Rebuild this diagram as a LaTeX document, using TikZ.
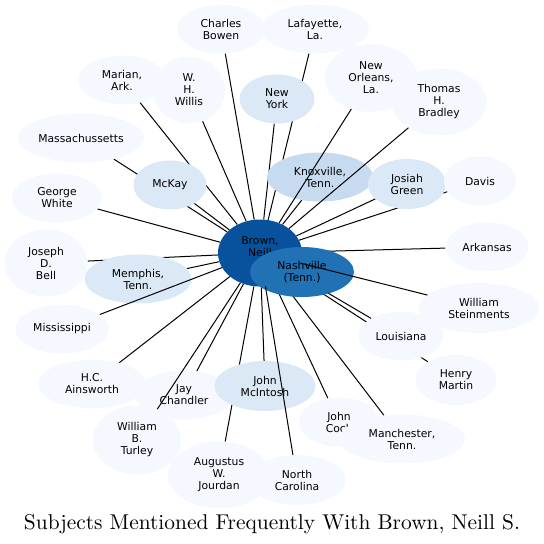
\documentclass[tikz,border=0pt]{standalone}
\usepackage{fontspec}
\setsansfont{DejaVu Sans}
\newfontfamily\titlefont{lmroman10-regular}[Extension=.otf]
\usetikzlibrary{shapes.geometric}
\definecolor{subjpale}{HTML}{F5F9FF}
\definecolor{subjsoft}{HTML}{DBE9F6}
\definecolor{subjmid}{HTML}{C6DBEF}
\definecolor{subjstrong}{HTML}{2171B5}
\definecolor{subjdeep}{HTML}{08519C}
\pgfdeclarelayer{back}
\pgfdeclarelayer{front}
\pgfsetlayers{back,main,front}

\begin{document}
\begin{tikzpicture}[
    x=1pt, y=-1pt,
    subj/.style={ellipse, draw=none, inner sep=0pt, align=center,
      font=\sffamily\fontsize{10.8}{12}\selectfont},
    pale/.style={subj, fill=subjpale},
    soft/.style={subj, fill=subjsoft},
    mid/.style={subj, fill=subjmid},
    strong/.style={subj, fill=subjstrong},
    deep/.style={subj, fill=subjdeep},
    ell/.style 2 args={minimum width=#1, minimum height=#2},
    link/.style={draw=black, line width=1pt}
  ]
  \useasboundingbox (0,0) rectangle (544,544);

  % outer ring, top
  \node[pale, ell={88pt}{49pt}] (bowen) at (221,29) {Charles\\Bowen};
  \node[pale, ell={108pt}{49pt}] (lafayette) at (315,29) {Lafayette,\\La.};
  \node[pale, ell={88pt}{49pt}] (marian) at (122,80) {Marian,\\Ark.};
  \node[pale, ell={72pt}{67pt}] (willis) at (189,90) {W.\\H.\\Willis};
  \node[soft, ell={75pt}{49pt}] (newyork) at (277,99) {New\\York};
  \node[pale, ell={93pt}{68pt}] (neworleans) at (371,78) {New\\Orleans,\\La.};
  \node[pale, ell={95pt}{67pt}] (bradley) at (439,102) {Thomas\\H.\\Bradley};
  \node[pale, ell={126pt}{49pt}] (mass) at (81,138) {Massachussetts};
  \node[soft, ell={73pt}{49pt}] (mckay) at (170,185) {McKay};
  \node[mid, ell={106pt}{49pt}] (knoxville) at (320,177) {Knoxville,\\Tenn.};
  \node[soft, ell={78pt}{50pt}] (josiah) at (407,184) {Josiah\\Green};
  \node[pale, ell={72pt}{49pt}] (davis) at (480,181) {Davis};
  \node[pale, ell={90pt}{49pt}] (george) at (57,198) {George\\White};

  % middle band
  \node[pale, ell={83pt}{67pt}] (bell) at (46,263) {Joseph\\D.\\Bell};
  \node[pale, ell={83pt}{49pt}] (arkansas) at (487,247) {Arkansas};
  \node[deep, ell={84pt}{67pt}] (brown) at (260,253) {Brown,\\Neill\\S.};
  \node[strong, ell={104pt}{50pt}] (nashville) at (302,272) {Nashville\\(Tenn.)};
  \node[soft, ell={107pt}{49pt}] (memphis) at (138,279) {Memphis,\\Tenn.};
  \node[pale, ell={120pt}{50pt}] (steinments) at (479,308) {William\\Steinments};
  \node[pale, ell={93pt}{49pt}] (mississippi) at (62,329) {Mississippi};
  \node[pale, ell={85pt}{49pt}] (louisiana) at (401,336) {Louisiana};
  \node[pale, ell={81pt}{50pt}] (martin) at (456,380) {Henry\\Martin};

  % outer ring, bottom
  \node[pale, ell={108pt}{49pt}] (ainsworth) at (92,384) {H.C.\\Ainsworth};
  \node[pale, ell={98pt}{49pt}] (chandler) at (184,395) {Jay\\Chandler};
  \node[soft, ell={101pt}{50pt}] (mcintosh) at (265,386) {John\\McIntosh};
  \node[pale, ell={88pt}{69pt}] (turley) at (137,440) {William\\B.\\Turley};
  \node[pale, ell={80pt}{49pt}] (cock) at (339,422) {John\\Cock};
  \node[pale, ell={126pt}{49pt}] (manchester) at (402,439) {Manchester,\\Tenn.};
  \node[pale, ell={103pt}{67pt}] (jourdan) at (219,475) {Augustus\\W.\\Jourdan};
  \node[pale, ell={98pt}{50pt}] (carolina) at (297,480) {North\\Carolina};

  \node[font=\titlefont\fontsize{21.4}{24}\selectfont, anchor=base] (title) at (272,529)
    {Subjects Mentioned Frequently With Brown, Neill S.};

  % links under the nodes
  \begin{pgfonlayer}{back}
    \foreach \n in {bowen, lafayette, marian, willis, newyork, mass, mckay,
        knoxville, josiah, davis, george, bell, arkansas, memphis,
        louisiana, martin, ainsworth, chandler, mcintosh, cock,
        manchester, jourdan}
      \draw[link] (brown) -- (\n);
  \end{pgfonlayer}
  % links over the nodes
  \begin{pgfonlayer}{front}
    \foreach \n in {neworleans, bradley, steinments, mississippi, turley, carolina}
      \draw[link] (brown) -- (\n);
  \end{pgfonlayer}
\end{tikzpicture}
\end{document}
